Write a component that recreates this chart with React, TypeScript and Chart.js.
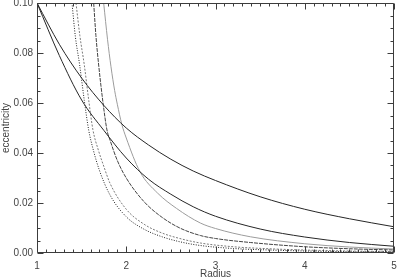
import React, { useEffect, useRef } from "react";
import { Chart, registerables } from "chart.js";

Chart.register(...registerables);

// ---- data ----
const SOLID_A_X = [1.0, 1.25, 1.5, 1.75, 2.0, 2.25, 2.5, 2.75, 3.0, 3.5, 4.0, 4.5, 5.0];
const SOLID_A_Y = [0.1, 0.0835, 0.07, 0.059, 0.05, 0.0432, 0.0375, 0.0328, 0.029, 0.0225, 0.0175, 0.0137, 0.0105];

const SOLID_B_X = [1.0, 1.25, 1.5, 1.75, 2.0, 2.25, 2.5, 2.75, 3.0, 3.5, 4.0, 4.5, 5.0];
const SOLID_B_Y = [0.1, 0.079, 0.0612, 0.049, 0.038, 0.0295, 0.0235, 0.0185, 0.0147, 0.0096, 0.0064, 0.0042, 0.0027];

const DOT_X = [1.392, 1.43, 1.478, 1.53, 1.579, 1.631, 1.7, 1.818, 2.0, 2.2, 2.4, 2.6, 2.83, 3.2, 3.6, 4.0, 4.5, 5.0];
const DOT_Y = [0.1, 0.0865, 0.0752, 0.061, 0.0492, 0.0412, 0.033, 0.0232, 0.0145, 0.0095, 0.0065, 0.0045, 0.003, 0.0018, 0.0012, 0.0008, 0.0005, 0.0004];

const DASH_X = [1.437, 1.48, 1.53, 1.58, 1.627, 1.687, 1.75, 1.818, 2.0, 2.2, 2.4, 2.6, 2.83, 3.2, 3.6, 4.0, 4.5, 5.0];
const DASH_Y = [0.1, 0.087, 0.0752, 0.061, 0.0492, 0.0412, 0.0345, 0.0279, 0.0175, 0.0115, 0.008, 0.0058, 0.004, 0.0025, 0.0017, 0.0012, 0.0008, 0.0006];

const DASHDOT_X = [1.635, 1.66, 1.691, 1.74, 1.784, 1.818, 1.9, 2.0, 2.2, 2.4, 2.6, 2.83, 3.0, 3.39, 4.0, 4.5, 5.0];
const DASHDOT_Y = [0.1, 0.087, 0.0752, 0.06, 0.0492, 0.0452, 0.037, 0.03, 0.0205, 0.0143, 0.01, 0.007, 0.0058, 0.0042, 0.0025, 0.0017, 0.0012];

const LONG_X = [1.747, 1.79, 1.829, 1.87, 1.9, 1.95, 2.0, 2.154, 2.35, 2.565, 2.83, 3.0, 3.39, 4.0, 4.5, 5.0];
const LONG_Y = [0.1, 0.0855, 0.0745, 0.065, 0.0595, 0.0515, 0.046, 0.0325, 0.024, 0.0178, 0.012, 0.0098, 0.0065, 0.0037, 0.0024, 0.0016];

const X_TICKS = [1, 2, 3, 4, 5];
const Y_TICKS = [0, 0.02, 0.04, 0.06, 0.08, 0.1];
const X_MINOR_STEP = 0.1;
const Y_MINOR_STEP = 0.005;

const X_TITLE = "Radius";
const Y_TITLE = "eccentricity";

const AXIS_COLOR = "#3c3c3c";
const TEXT_COLOR = "#444444";
const FONT = "'Liberation Sans', Arial, Helvetica, sans-serif";

const pts = (xs: number[], ys: number[]) => xs.map((x, i) => ({ x, y: ys[i] }));

const frameTicks = {
  id: "frameTicks",
  afterDatasetsDraw(chart: any) {
    const { ctx, chartArea, scales } = chart;
    const xs = scales.x;
    const ys = scales.y;
    const L = Math.round(chartArea.left) + 0.5;
    const R = Math.round(chartArea.right) - 0.5;
    const T = Math.round(chartArea.top) + 0.5;
    const B = Math.round(chartArea.bottom) - 0.5;
    ctx.save();
    ctx.strokeStyle = AXIS_COLOR;
    ctx.lineWidth = 1;
    ctx.beginPath();
    ctx.moveTo(L, T);
    ctx.lineTo(R, T);
    ctx.lineTo(R, B);
    ctx.lineTo(L, B);
    ctx.closePath();
    ctx.stroke();
    const isMajor = (v: number, arr: number[]) => arr.some((t) => Math.abs(t - v) < 1e-9);
    ctx.beginPath();
    for (let i = 0; ; i++) {
      const v = X_TICKS[0] + i * X_MINOR_STEP;
      if (v > X_TICKS[X_TICKS.length - 1] + 1e-9) break;
      const len = isMajor(Math.round(v * 1000) / 1000, X_TICKS) ? 6 : 3;
      const p = Math.round(xs.getPixelForValue(v)) + 0.5;
      ctx.moveTo(p, B);
      ctx.lineTo(p, B - len);
      ctx.moveTo(p, T);
      ctx.lineTo(p, T + len);
    }
    for (let i = 0; ; i++) {
      const v = Y_TICKS[0] + i * Y_MINOR_STEP;
      if (v > Y_TICKS[Y_TICKS.length - 1] + 1e-9) break;
      const len = isMajor(Math.round(v * 10000) / 10000, Y_TICKS) ? 6 : 3;
      const p = Math.round(ys.getPixelForValue(v)) + 0.5;
      ctx.moveTo(L, p);
      ctx.lineTo(L + len, p);
      ctx.moveTo(R, p);
      ctx.lineTo(R - len, p);
    }
    ctx.stroke();
    ctx.restore();
  },
};

export default function App() {
  const ref = useRef<HTMLCanvasElement | null>(null);
  useEffect(() => {
    if (!ref.current) return;
    const line = (xs: number[], ys: number[], color: string, dash: number[]) => ({
      data: pts(xs, ys),
      borderColor: color,
      borderWidth: 1,
      borderDash: dash,
      pointRadius: 0,
      fill: false,
      cubicInterpolationMode: "monotone" as const,
    });
    const chart = new Chart(ref.current, {
      type: "line",
      data: {
        datasets: [
          line(SOLID_A_X, SOLID_A_Y, "#262626", []),
          line(SOLID_B_X, SOLID_B_Y, "#262626", []),
          line(DOT_X, DOT_Y, "#222222", [1, 1.5]),
          line(DASH_X, DASH_Y, "#7a7a7a", [2, 1.5]),
          line(DASHDOT_X, DASHDOT_Y, "#444444", [4, 1]),
          line(LONG_X, LONG_Y, "#9c9c9c", []),
        ],
      },
      options: {
        responsive: false,
        animation: false,
        layout: { padding: { left: 0, right: 3, top: 3, bottom: 0 } },
        plugins: { legend: { display: false }, tooltip: { enabled: false } },
        scales: {
          x: {
            type: "linear",
            min: 1,
            max: 5,
            grid: { display: false, drawTicks: false },
            border: { display: false },
            ticks: {
              stepSize: 1,
              padding: 7,
              color: TEXT_COLOR,
              font: { family: FONT, size: 10 },
              maxRotation: 0,
              callback: (v: any) => String(v),
            },
            afterBuildTicks: (s: any) => {
              s.ticks = X_TICKS.map((v) => ({ value: v }));
            },
            title: {
              display: true,
              text: X_TITLE,
              color: TEXT_COLOR,
              font: { family: FONT, size: 10, lineHeight: 1 },
              padding: { top: 0, bottom: 0 },
            },
            afterFit: (s: any) => {
              s.height = 26;
              s.paddingLeft = 0;
              s.paddingRight = 0;
            },
          },
          y: {
            type: "linear",
            min: 0,
            max: 0.1,
            grid: { display: false, drawTicks: false },
            border: { display: false },
            ticks: {
              padding: 4,
              color: TEXT_COLOR,
              font: { family: FONT, size: 10 },
              callback: (v: any) => Number(v).toFixed(2),
            },
            afterBuildTicks: (s: any) => {
              s.ticks = Y_TICKS.map((v) => ({ value: v }));
            },
            title: {
              display: true,
              text: Y_TITLE,
              color: TEXT_COLOR,
              font: { family: FONT, size: 10 },
              padding: { top: 0, bottom: 0 },
            },
            afterFit: (s: any) => {
              s.width = 37;
              s.paddingTop = 0;
              s.paddingBottom = 0;
            },
          },
        },
      },
      plugins: [frameTicks],
    });
    return () => chart.destroy();
  }, []);
  return (
    <div style={{ position: "fixed", left: 0, top: 0, width: 397, height: 279, background: "#fff" }}>
      <canvas ref={ref} width={397} height={279} style={{ display: "block" }} />
    </div>
  );
}
